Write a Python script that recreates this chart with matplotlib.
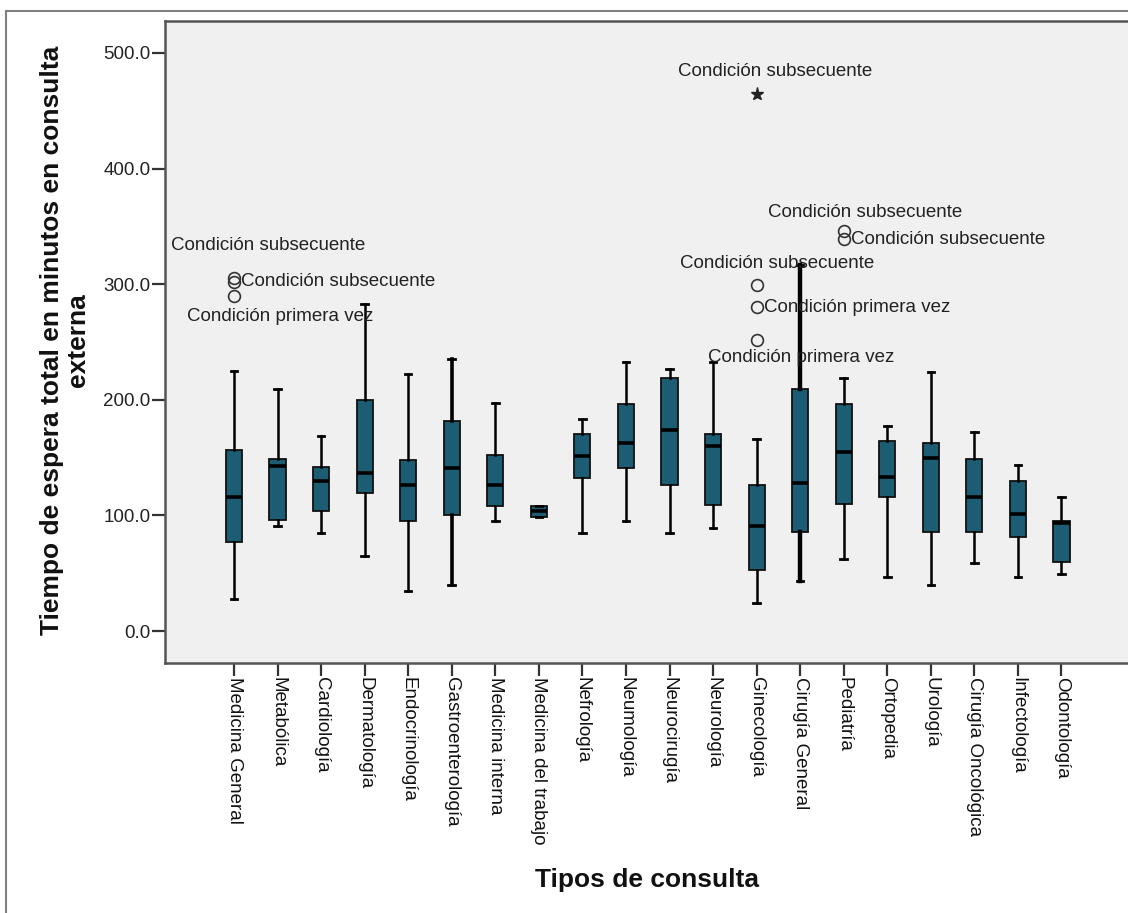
import matplotlib
matplotlib.use("Agg")
import matplotlib.pyplot as plt
from matplotlib.lines import Line2D
import numpy as np

plt.rcParams["font.family"] = ["Liberation Sans", "DejaVu Sans"]

# Consultation types and their box-plot summaries (minutes)
categories = ["Medicina General", "Metabólica", "Cardiología", "Dermatología",
              "Endocrinología", "Gastroenterología", "Medicina interna",
              "Medicina del trabajo", "Nefrología", "Neumología", "Neurocirugía",
              "Neurología", "Ginecología", "Cirugía General", "Pediatría",
              "Ortopedia", "Urología", "Cirugía Oncológica", "Infectología",
              "Odontología"]

whisker_low = [28, 91, 85, 65, 35, 40, 95, 99, 85, 95, 85, 89, 24, 43, 62, 47, 40, 59, 47, 49]
q1 = [77, 96, 104, 119, 95, 100, 108, 99, 132, 141, 126, 109, 53, 86, 110, 116, 86, 86, 81, 60]
median = [116, 143, 130, 137, 126, 141, 126, 104, 151, 163, 174, 160, 91, 128, 155, 133, 150, 116, 101, 93]
q3 = [157, 149, 142, 200, 148, 182, 152, 108, 170, 196, 219, 170, 126, 209, 196, 164, 163, 149, 130, 95]
whisker_high = [225, 209, 169, 283, 222, 235, 197, 108, 183, 233, 227, 233, 166, 317, 219, 177, 224, 172, 144, 116]

# Outliers (circles) and extreme values (stars), with their case labels
outlier_cat = ["Medicina General", "Medicina General", "Medicina General",
               "Ginecología", "Ginecología", "Ginecología",
               "Pediatría", "Pediatría"]
outlier_val = [305, 302, 290, 299, 280, 252, 346, 339]
outlier_lab = ["Condición subsecuente", "Condición subsecuente", "Condición primera vez",
               "Condición subsecuente", "Condición primera vez", "Condición primera vez",
               "Condición subsecuente", "Condición subsecuente"]
extreme_cat = ["Ginecología"]
extreme_val = [464.5]
extreme_lab = ["Condición subsecuente"]

# label placement relative to each point: (dx px, dy px, horizontal alignment)
outlier_offsets = [(34, 33, "center"), (7, 0, "left"), (46, -21, "center"),
                   (21, 22, "center"), (7, 0, "left"), (45, -18, "center"),
                   (21, 19, "center"), (7, 0, "left")]
extreme_offsets = [(19, 23, "center")]

W, H = 1128, 913
fig = plt.figure(figsize=(W / 100, H / 100), dpi=100)
fig.patch.set_facecolor("white")

left_px, right_px, top_px, bottom_px = 165, 1135, 21, 663
ax = fig.add_axes([left_px / W, (H - bottom_px) / H,
                   (right_px - left_px) / W, (bottom_px - top_px) / H])
ax.set_facecolor("#F0F0F0")

positions = np.arange(len(categories))
stats = []
for i, name in enumerate(categories):
    stats.append(dict(label=name, whislo=whisker_low[i], q1=q1[i], med=median[i],
                      q3=q3[i], whishi=whisker_high[i], fliers=[]))

box_color = "#1C5D74"
parts = ax.bxp(stats, positions=positions, widths=0.37, patch_artist=True,
               showfliers=False, capwidths=0.15,
               boxprops=dict(facecolor=box_color, edgecolor="#111111", linewidth=1.3),
               medianprops=dict(color="black", linewidth=2.6, solid_capstyle="butt"),
               whiskerprops=dict(color="black", linewidth=1.8),
               capprops=dict(color="black", linewidth=2.0))

# a few whiskers render heavier
heavy = {"Gastroenterología": 2.6, "Cirugía General": 3.2}
for name, lw in heavy.items():
    k = categories.index(name)
    for w in parts["whiskers"][2 * k:2 * k + 2]:
        w.set_linewidth(lw)

pos_of = {name: i for i, name in enumerate(categories)}

ox = [pos_of[c] for c in outlier_cat]
ax.plot(ox, outlier_val, linestyle="none", marker="o", markersize=8.5,
        markerfacecolor="none", markeredgecolor="#333333", markeredgewidth=1.2, zorder=4)
ex = [pos_of[c] for c in extreme_cat]
ax.plot(ex, extreme_val, linestyle="none", marker="*", markersize=9.5,
        color="#222222", zorder=4)

for x, v, lab, (dx, dy, ha) in zip(ox, outlier_val, outlier_lab, outlier_offsets):
    ax.annotate(lab, (x, v), xytext=(dx, dy), textcoords="offset pixels",
                ha=ha, va="center", fontsize=13.5, color="#222222", zorder=5)
for x, v, lab, (dx, dy, ha) in zip(ex, extreme_val, extreme_lab, extreme_offsets):
    ax.annotate(lab, (x, v), xytext=(dx, dy), textcoords="offset pixels",
                ha=ha, va="center", fontsize=13.5, color="#222222", zorder=5)

# axis ranges: category spacing ~43.55 px, first category at x=234 px
step = 43.55
ax.set_xlim((left_px - 234) / step, (right_px - 234) / step)
per100 = 115.6
ax.set_ylim((631 - bottom_px) / per100 * 100, (631 - top_px) / per100 * 100)

yt = np.arange(0, 501, 100)
ax.set_yticks(yt)
ax.set_yticklabels([f"{v:.1f}" for v in yt], fontsize=13.5, color="#222222")
ax.set_xticks(positions)
ax.set_xticklabels(categories, rotation=-90, ha="center", va="top",
                   fontsize=13.5, color="#111111")
ax.tick_params(axis="y", direction="out", length=9.5, width=1.6, color="#333333", pad=1)
ax.tick_params(axis="x", direction="out", length=9.5, width=1.6, color="#333333", pad=0.5)

for side in ["left", "bottom", "top", "right"]:
    ax.spines[side].set_color("#555555")
    ax.spines[side].set_linewidth(1.8)

fig.text(647 / W, 1 - 880 / H, "Tipos de consulta", ha="center", va="center",
         fontsize=19, fontweight="bold", color="#111111")
fig.text(65 / W, 1 - 340 / H, "Tiempo de espera total en minutos en consulta\nexterna",
         ha="center", va="center", rotation=90, multialignment="center",
         fontsize=19, fontweight="bold", color="#111111", linespacing=1.1)

# outer frame of the chart
fy = 1 - 11 / H
fx = 6 / W
fig.add_artist(Line2D([fx, fx], [0, fy], transform=fig.transFigure, color="#808080", lw=1.5))
fig.add_artist(Line2D([fx, 1], [fy, fy], transform=fig.transFigure, color="#808080", lw=1.5))

fig.savefig("out.png", dpi=100, facecolor="white")
